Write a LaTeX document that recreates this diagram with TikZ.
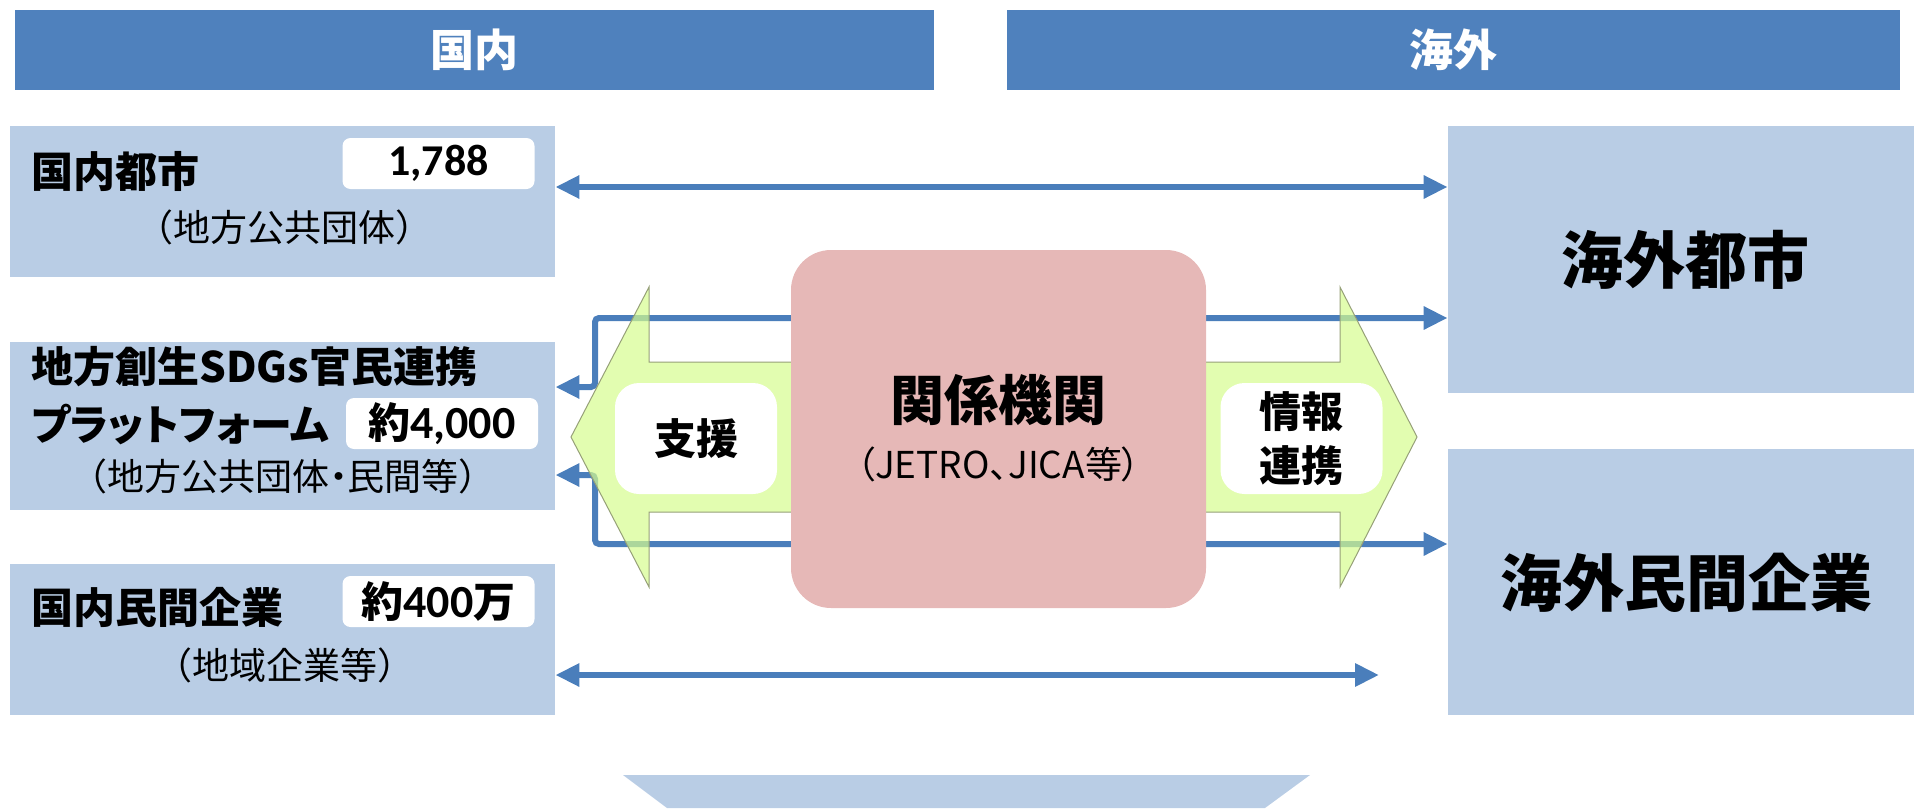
\documentclass[tikz,border=0pt]{standalone}
\usepackage{fontspec}
\setmainfont[RawFeature=+palt]{Noto Sans CJK JP}
\newfontfamily\jpfull{Noto Sans CJK JP}
\newfontfamily\numf{Carlito}
\usetikzlibrary{arrows.meta}
\definecolor{hdrblue}{RGB}{79,129,189}
\definecolor{lblue}{RGB}{185,205,229}
\definecolor{lineblue}{RGB}{74,126,187}
\definecolor{hubpink}{RGB}{230,184,183}
\definecolor{agreen}{RGB}{214,252,142}
\definecolor{aedge}{RGB}{150,160,120}
\begin{document}
\begin{tikzpicture}[x=0.5pt,y=-0.5pt,
  hdr/.style={fill=hdrblue,draw=none,inner sep=0pt,text=white,font=\fontsize{22pt}{26pt}\selectfont\bfseries},
  lbox/.style={fill=lblue,draw=none,inner sep=0pt},
  numbox/.style={fill=white,draw=none,rounded corners=4pt,inner sep=0pt,minimum width=96pt,minimum height=25.5pt},
  wbox/.style={fill=white,draw=none,rounded corners=12pt,inner sep=0pt,minimum width=81pt,minimum height=55.5pt,align=center,font=\fontsize{21pt}{27pt}\selectfont\bfseries},
  ttl/.style={inner sep=0pt,anchor=west,font=\fontsize{21pt}{25pt}\selectfont\bfseries},
  sub/.style={inner sep=0pt,font=\jpfull\fontsize{18.5pt}{22pt}\selectfont},
  big/.style={inner sep=0pt,font=\fontsize{31pt}{36pt}\selectfont\bfseries},
  link/.style={draw=lineblue,line width=3pt,rounded corners=2pt,{Triangle[length=12pt,width=11pt]}-{Triangle[length=12pt,width=11pt]}},
]
\useasboundingbox (0,0) rectangle (1914,808);
% headers
\node[hdr,minimum width=459.5pt,minimum height=40pt] (hL) at (474.5,50) {国内};
\node[hdr,minimum width=446.5pt,minimum height=40pt] (hR) at (1453.5,50) {海外};
% domestic boxes
\node[lbox,minimum width=272.5pt,minimum height=75.5pt] (dom1) at (282.5,201.5) {};
\node[lbox,minimum width=272.5pt,minimum height=84pt] (dom2) at (282.5,426) {};
\node[lbox,minimum width=272.5pt,minimum height=75.5pt] (dom3) at (282.5,639.5) {};
% overseas boxes
\node[lbox,minimum width=233pt,minimum height=133.5pt] (ov1) at (1681,259.5) {};
\node[lbox,minimum width=233pt,minimum height=133pt] (ov2) at (1681,582) {};
% bottom trapezoid
\fill[lblue] (623,775) -- (1310,775) -- (1265,808) -- (667,808) -- cycle;
% connectors
\coordinate (l4end) at (1379,675);
\draw[link] (dom1.east |- 0,187) -- (ov1.west |- 0,187);
\draw[link] (dom2.east |- 0,387) -- (595,387) -- (595,318) -- (ov1.west |- 0,318);
\draw[link] (dom2.east |- 0,475) -- (595,475) -- (595,544) -- (ov2.west |- 0,544);
\draw[link] (dom3.east |- 0,675) -- (l4end);
% green double arrow
\path[fill=agreen,fill opacity=0.7,draw=aedge,line width=0.5pt]
  (571,437) -- (649,287) -- (649,362) -- (1340,362) -- (1340,287) -- (1417,437)
  -- (1340,587) -- (1340,512) -- (649,512) -- (649,587) -- cycle;
% hub
\node[fill=hubpink,draw=none,rounded corners=20pt,minimum width=207.5pt,minimum height=179pt,inner sep=0pt] (hub) at (998.5,429) {};
\node[inner sep=0pt,font=\fontsize{27pt}{30pt}\selectfont\bfseries] (hubt) at (998.5,400) {関係機関};
\node[inner sep=0pt,font=\fontsize{18.5pt}{22pt}\selectfont] (hubs) at (998.5,464) {（JETRO、JICA等）};
% white side boxes
\node[wbox] (sup) at (696,438.5) {支援};
\node[wbox] (info) at (1301.5,438.5) {情報\\連携};
% domestic texts
\node[ttl] (t1) at (31,171) {国内都市};
\node[sub] (s1) at (284,227) {（地方公共団体）};
\node[numbox] (n1) at (438.5,163.5) {\fontsize{22pt}{24pt}\selectfont\numf\bfseries 1,788};
\node[ttl] (t2a) at (31,367) {地方創生SDGs官民連携};
\node[ttl] (t2b) at (31,424) {プラットフォーム};
\node[sub] (s2) at (283,476) {（地方公共団体{\rmfamily ・}民間等）};
\node[numbox] (n2) at (442,423.5) {\fontsize{21pt}{24pt}\selectfont\bfseries 約{\numf\fontsize{23pt}{24pt}\selectfont 4,000}};
\node[ttl] (t3) at (31,607) {国内民間企業};
\node[sub] (s3) at (285,665) {（地域企業等）};
\node[numbox] (n3) at (438.5,601.5) {\fontsize{21pt}{24pt}\selectfont\bfseries 約{\numf\fontsize{23pt}{24pt}\selectfont 400}万};
% overseas texts
\node[big] (o1) at (1685,260) {海外都市};
\node[big] (o2) at (1686,583) {海外民間企業};
\end{tikzpicture}
\end{document}
